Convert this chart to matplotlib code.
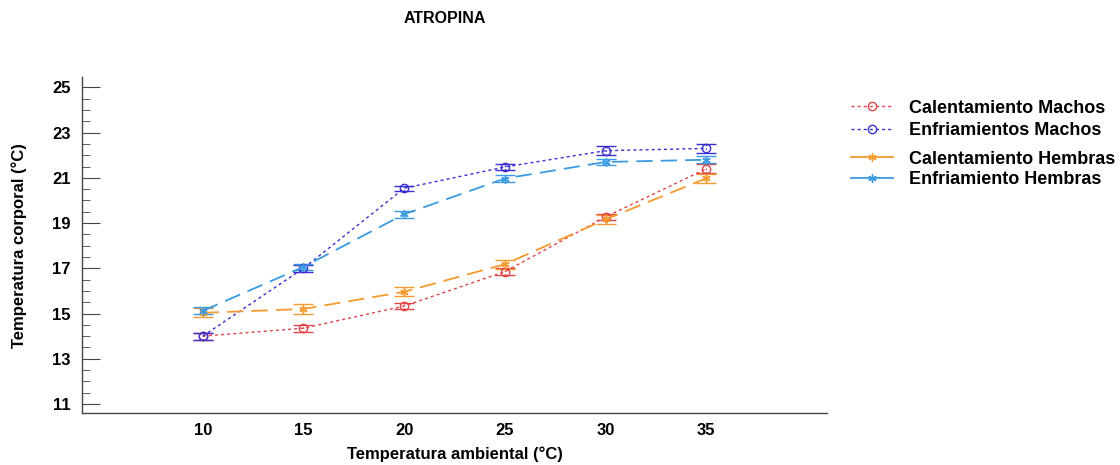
import matplotlib.pyplot as plt
from matplotlib.lines import Line2D

plt.rcParams['font.family'] = ['Liberation Sans', 'DejaVu Sans']
plt.rcParams['font.weight'] = 'bold'

temp_ambiental = [10, 15, 20, 25, 30, 35]

cal_machos = [14.0, 14.35, 15.33, 16.85, 19.27, 21.4]
cal_machos_err = [0.15, 0.15, 0.15, 0.15, 0.15, 0.2]
enf_machos = [14.0, 17.0, 20.54, 21.48, 22.2, 22.3]
enf_machos_err = [0.15, 0.15, 0.12, 0.15, 0.2, 0.2]
cal_hembras = [15.03, 15.2, 15.96, 17.18, 19.16, 20.98]
cal_hembras_err = [0.2, 0.22, 0.2, 0.2, 0.2, 0.2]
enf_hembras = [15.12, 17.06, 19.39, 20.97, 21.7, 21.8]
enf_hembras_err = [0.15, 0.15, 0.15, 0.15, 0.15, 0.15]

y_ticks = [11, 13, 15, 17, 19, 21, 23, 25]

c_red = '#e0464a'
c_purple = '#3b2fd0'
c_orange = '#f59a2e'
c_blue = '#3a9be0'

dotted = (0, (2.2, 2.2))
dashed = (0, (9, 4.5))
asterisk = (6, 2, 0)

fig = plt.figure(figsize=(11.2, 4.65), dpi=100)
ax = fig.add_axes([0.0732, 0.1118, 0.6652, 0.7222])

series = [
    ("Calentamiento Machos", cal_machos, cal_machos_err, c_red, dotted, 'o'),
    ("Enfriamientos Machos", enf_machos, enf_machos_err, c_purple, dotted, 'o'),
    ("Calentamiento Hembras", cal_hembras, cal_hembras_err, c_orange, dashed, asterisk),
    ("Enfriamiento Hembras", enf_hembras, enf_hembras_err, c_blue, dashed, asterisk),
]

handles = []
for label, vals, err, col, ls, mk in series:
    lw = 1.0 if ls is dotted else 1.3
    cont = ax.errorbar(temp_ambiental, vals, yerr=err, color=col, linestyle=ls, linewidth=lw,
                       marker=mk, markersize=6, markerfacecolor='none', markeredgecolor=col,
                       markeredgewidth=1.0, capsize=7, elinewidth=1.0, capthick=1.0)
    if ls is dotted:
        for b in cont[2]:
            b.set_linestyle(':')
    leg_ls = ls if ls is dotted else '-'
    handles.append(Line2D([], [], color=col, linestyle=leg_ls, linewidth=lw, marker=mk,
                          markersize=6, markerfacecolor='none', markeredgecolor=col, label=label))

ax.set_xlim(4, 41)
ax.set_ylim(10.6, 25.45)
ax.set_xticks(temp_ambiental)
ax.set_yticks(y_ticks)
ax.set_yticks([v / 2 for v in range(22, 51)], minor=True)
ax.tick_params(axis='x', length=0, labelsize=12, pad=7)
ax.tick_params(axis='y', which='major', direction='in', length=13, labelsize=12, pad=8, color='#444444')
ax.tick_params(axis='y', which='minor', direction='in', length=6, color='#444444')
for t in ax.get_xticklabels() + ax.get_yticklabels():
    t.set_fontweight('bold')

for side in ['top', 'right']:
    ax.spines[side].set_visible(False)
for side in ['left', 'bottom']:
    ax.spines[side].set_color('#444444')
    ax.spines[side].set_linewidth(1.0)

ax.set_xlabel("Temperatura ambiental (°C)", fontsize=12, fontweight='bold', labelpad=6)
ax.set_ylabel("Temperatura corporal (°C)", fontsize=12, fontweight='bold', labelpad=18)

fig.text(0.397, 0.961, "ATROPINA", ha='center', va='center', fontsize=11.5, fontweight='bold')

leg_kw = dict(loc='upper left', frameon=False, fontsize=13, handlelength=2.3,
              handletextpad=0.9, borderaxespad=0, borderpad=0)
leg1 = fig.legend(handles=handles[:2], bbox_to_anchor=(0.76, 0.786), labelspacing=0.32, **leg_kw)
leg2 = fig.legend(handles=handles[2:], bbox_to_anchor=(0.76, 0.676), labelspacing=0.2, **leg_kw)
for leg in (leg1, leg2):
    for t in leg.get_texts():
        t.set_fontweight('bold')

fig.savefig('out.png', dpi=100)
